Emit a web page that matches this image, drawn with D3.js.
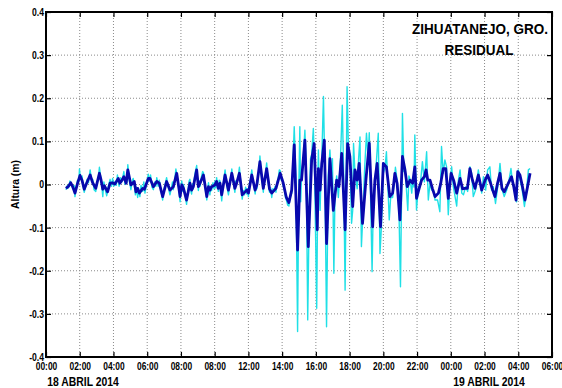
<!DOCTYPE html>
<html><head><meta charset="utf-8">
<script src="https://cdn.jsdelivr.net/npm/d3@7"></script>
<style>
body{margin:0;background:#fff;}
svg{display:block;}
text{font-family:"Liberation Sans Narrow","Arial Narrow","Liberation Sans",Arial,sans-serif;font-weight:bold;fill:#000;}
</style>
</head><body>
<svg id="c" width="562" height="388"></svg>
<script>
// time in minutes from 18 ABRIL 2014 00:00
const xTickMinutes = [0,120,240,360,480,600,720,840,960,1080,1200,1320,1440,1560,1680,1800];
const xTickLabels = ["00:00","02:00","04:00","06:00","08:00","08:00","12:00","14:00","16:00","18:00","20:00","22:00","00:00","02:00","04:00","06:00"];
const yTickValues = [-0.4,-0.3,-0.2,-0.1,0,0.1,0.2,0.3,0.4];
const yTickLabels = ["-0.4","-0.3","-0.2","-0.1","0","0.1","0.2","0.3","0.4"];
const dateLabels = ["18 ABRIL 2014","19 ABRIL 2014"];
const titleLines = ["ZIHUATANEJO, GRO.","RESIDUAL"];
const yAxisTitle = "Altura (m)";

// filtered residual (dark blue)
const filteredSeries = [
[71,-0.009],[80,-0.004],[88,0.004],[95,-0.005],[103,-0.020],[112,0.002],[121,0.021],[128,0.010],[136,-0.011],[146,0.005],[157,0.022],[166,0.004],[177,-0.009],[190,0.026],[196,0.010],[202,-0.011],[208,-0.003],[219,-0.017],[228,0.003],[237,0.004],[245,0.001],[257,0.014],[263,0.003],[270,0.010],[277,0.018],[285,0.003],[291,0.034],[302,-0.001],[314,0.007],[320,-0.017],[326,-0.009],[332,-0.020],[344,-0.009],[350,-0.011],[364,0.014],[370,0.014],[382,-0.005],[394,0.007],[403,0.003],[415,-0.028],[429,0.007],[441,-0.013],[453,-0.005],[465,0.026],[477,-0.028],[483,-0.001],[489,-0.009],[500,-0.036],[512,0.003],[518,-0.013],[524,-0.005],[536,0.034],[542,-0.005],[548,0.003],[560,0.022],[572,-0.028],[578,-0.005],[583,-0.013],[589,-0.005],[601,-0.001],[607,0.007],[613,-0.009],[619,0.003],[625,-0.024],[637,0.022],[649,-0.013],[661,0.026],[672,-0.009],[678,0.003],[688,0.026],[698,-0.024],[714,-0.013],[720,-0.020],[732,0.022],[744,-0.013],[750,-0.001],[761,0.053],[773,-0.009],[785,0.037],[795,-0.010],[803,-0.020],[818,-0.009],[833,0.026],[844,0.003],[855,-0.030],[864,-0.042],[874,-0.013],[883,0.092],[895,-0.152],[903,0.010],[909,0.010],[921,0.103],[933,-0.144],[945,0.057],[954,0.095],[965,-0.105],[969,0.037],[975,-0.013],[981,0.049],[990,0.103],[998,-0.137],[1010,0.060],[1022,-0.060],[1034,0.010],[1042,-0.005],[1052,0.072],[1064,-0.105],[1073,0.095],[1081,0.065],[1091,-0.051],[1099,0.034],[1107,0.010],[1114,0.049],[1126,-0.090],[1138,0.010],[1150,0.096],[1162,-0.098],[1170,0.010],[1178,0.049],[1190,-0.098],[1200,0.049],[1211,0.041],[1223,-0.028],[1233,-0.020],[1241,0.026],[1249,0.003],[1259,-0.082],[1268,0.065],[1277,0.034],[1285,-0.005],[1295,0.010],[1304,0.003],[1312,0.041],[1318,-0.032],[1327,-0.010],[1336,0.010],[1346,0.018],[1352,0.034],[1358,0.010],[1366,0.010],[1375,-0.010],[1384,-0.028],[1396,-0.020],[1404,0.002],[1413,0.037],[1422,0.037],[1431,-0.032],[1441,0.026],[1450,0.010],[1461,-0.020],[1473,0.014],[1482,-0.010],[1490,-0.009],[1499,-0.009],[1508,0.037],[1517,0.010],[1526,-0.009],[1538,0.022],[1550,-0.013],[1562,0.010],[1571,0.022],[1580,0.006],[1589,-0.013],[1597,-0.028],[1606,0.002],[1615,0.026],[1622,-0.009],[1630,-0.017],[1639,-0.005],[1647,0.006],[1656,0.018],[1664,-0.005],[1672,-0.036],[1678,0.030],[1686,0.022],[1695,-0.005],[1704,-0.036],[1713,-0.005],[1722,0.026]
];

// raw residual (cyan)
const rawSeries = [
[71,-0.012],[76,-0.002],[80,-0.008],[85,0.008],[90,0.000],[95,-0.010],[100,-0.002],[103,-0.028],[108,-0.005],[112,0.010],[117,0.008],[119,0.036],[123,0.012],[128,0.020],[132,-0.005],[136,-0.018],[141,-0.004],[146,0.012],[151,0.004],[157,0.034],[162,0.010],[166,0.012],[171,-0.012],[177,-0.016],[182,0.006],[186,0.014],[190,0.040],[194,0.020],[198,0.000],[202,-0.028],[206,0.006],[210,-0.010],[216,-0.026],[222,-0.004],[228,0.012],[233,-0.004],[237,0.014],[241,-0.004],[245,0.006],[250,-0.002],[254,0.022],[257,0.012],[260,-0.004],[265,0.016],[270,0.006],[277,0.030],[281,0.000],[285,0.010],[288,0.004],[291,0.046],[296,0.012],[302,-0.012],[306,0.006],[310,0.014],[314,0.000],[318,-0.024],[322,-0.006],[326,-0.030],[330,-0.010],[334,-0.028],[338,-0.002],[344,-0.016],[348,0.006],[352,-0.020],[358,0.004],[364,0.024],[368,0.008],[372,0.022],[377,-0.006],[382,-0.012],[387,0.006],[391,-0.004],[394,0.016],[399,-0.004],[403,0.010],[408,-0.010],[415,-0.036],[420,-0.010],[425,0.004],[429,0.016],[434,-0.004],[441,-0.024],[446,-0.008],[450,0.006],[453,-0.012],[458,0.012],[462,0.036],[465,0.024],[470,0.004],[474,-0.020],[477,-0.040],[480,-0.004],[483,0.008],[487,-0.016],[489,0.000],[494,-0.020],[500,-0.046],[505,-0.014],[509,0.008],[512,0.012],[515,-0.014],[518,-0.022],[521,0.002],[524,-0.010],[528,0.016],[532,0.032],[536,0.044],[539,0.010],[542,-0.014],[545,0.008],[548,-0.004],[553,0.018],[557,0.030],[560,0.028],[564,0.006],[568,-0.016],[572,-0.036],[575,-0.010],[578,0.004],[583,-0.024],[586,-0.004],[589,-0.014],[594,0.004],[598,-0.010],[601,0.008],[604,-0.008],[607,0.016],[610,-0.004],[613,-0.016],[616,0.010],[619,0.008],[622,-0.016],[625,-0.038],[629,-0.010],[633,0.014],[637,0.034],[641,0.010],[645,-0.010],[649,-0.024],[653,-0.004],[657,0.014],[661,0.036],[665,0.010],[668,-0.004],[672,-0.018],[675,0.008],[678,0.000],[683,0.016],[688,0.040],[692,0.010],[695,-0.010],[698,-0.034],[702,-0.014],[706,-0.024],[710,-0.006],[714,-0.022],[717,-0.010],[720,-0.028],[724,0.000],[728,0.014],[732,0.034],[736,0.012],[740,-0.004],[744,-0.022],[747,-0.004],[750,-0.010],[754,0.012],[758,0.034],[761,0.066],[765,0.030],[769,0.004],[773,-0.018],[776,0.006],[780,0.020],[785,0.050],[789,0.016],[792,-0.004],[795,-0.018],[799,-0.008],[803,-0.030],[807,-0.010],[811,-0.016],[815,-0.004],[818,-0.018],[822,0.006],[826,0.014],[830,0.034],[833,0.032],[837,0.010],[840,0.016],[844,-0.004],[848,-0.012],[852,-0.030],[855,-0.036],[860,-0.048],[864,-0.050],[868,-0.030],[874,-0.020],[878,0.040],
[883,0.134],[889,0.020],[895,-0.341],[899,-0.020],[903,0.134],[906,-0.040],[909,0.020],[915,0.060],[921,0.126],[926,0.030],[931,-0.314],[937,-0.030],[941,0.060],[945,0.070],[951,0.130],[955,0.050],[963,-0.287],[967,0.010],[969,0.080],[972,-0.010],[975,-0.060],[978,0.010],[981,0.060],[987,0.204],[992,0.030],[998,-0.330],[1004,0.020],[1010,0.080],[1015,0.020],[1019,0.060],[1024,-0.206],[1028,-0.020],[1034,0.020],[1040,-0.030],[1047,0.050],[1054,0.184],[1059,0.020],[1064,-0.245],[1068,0.020],[1071,0.227],[1076,0.080],[1081,0.068],[1087,-0.090],[1091,-0.060],[1094,0.095],[1099,0.030],[1107,-0.010],[1112,0.060],[1117,0.110],[1122,-0.144],[1128,-0.060],[1133,0.030],[1140,0.119],[1146,0.060],[1150,0.120],[1155,-0.040],[1160,-0.202],[1165,-0.020],[1170,0.000],[1176,0.060],[1182,0.119],[1188,-0.160],[1193,-0.100],[1200,0.026],[1206,0.040],[1211,0.076],[1216,0.000],[1221,-0.082],[1226,-0.030],[1233,-0.030],[1238,0.000],[1243,0.040],[1249,0.010],[1255,-0.040],[1261,-0.237],[1266,0.040],[1268,0.165],[1273,0.030],[1277,0.040],[1282,-0.010],[1287,-0.060],[1291,0.020],[1296,0.010],[1301,-0.020],[1305,0.010],[1309,-0.006],
[1312,0.115],[1318,-0.059],[1324,-0.009],[1332,0.003],[1339,0.053],[1346,0.006],[1354,0.076],[1360,-0.036],[1366,0.003],[1372,-0.013],[1378,-0.013],[1384,-0.036],[1393,-0.036],[1401,-0.063],[1407,0.088],[1413,0.026],[1419,0.057],[1425,0.041],[1431,-0.070],[1437,0.003],[1443,0.041],[1449,-0.005],[1461,-0.050],[1467,0.010],[1473,0.034],[1479,-0.020],[1485,-0.024],[1493,-0.005],[1500,-0.016],[1508,0.041],[1514,0.026],[1520,-0.028],[1528,-0.013],[1538,0.034],[1544,0.007],[1550,-0.020],[1556,0.018],[1564,-0.013],[1571,0.034],[1579,0.041],[1585,-0.013],[1591,-0.005],[1599,-0.044],[1607,-0.005],[1615,0.049],[1623,-0.013],[1630,-0.028],[1639,-0.013],[1647,0.010],[1654,0.037],[1660,0.003],[1668,-0.020],[1674,-0.040],[1680,0.034],[1686,0.014],[1694,-0.013],[1702,-0.051],[1710,-0.009],[1716,0.034],[1722,0.037]
];

const W = 562, H = 388;
const m = {left:46, right:552, top:12, bottom:357};
const svg = d3.select("#c");
const x = d3.scaleLinear().domain([0,1800]).range([m.left, m.right]);
const y = d3.scaleLinear().domain([-0.4,0.4]).range([m.bottom, m.top]);
const pw = m.right - m.left, ph = m.bottom - m.top;

// condense text horizontally (narrow bold look)
function condense(sel, f){
  sel.each(function(){
    const L = this.getComputedTextLength();
    if (L > 0) d3.select(this).attr("textLength", L*f).attr("lengthAdjust","spacingAndGlyphs");
  });
}

// grid
const grid = svg.append("g");
grid.selectAll("line.gx").data(xTickMinutes.slice(1,-1)).join("line")
  .attr("x1", d=>x(d)).attr("x2", d=>x(d)).attr("y1", m.top).attr("y2", m.bottom)
  .attr("stroke","#8a8a8a").attr("stroke-width",1).attr("stroke-dasharray","1,2");
grid.selectAll("line.gy").data(yTickValues.slice(1,-1)).join("line")
  .attr("y1", d=>y(d)).attr("y2", d=>y(d)).attr("x1", m.left).attr("x2", m.right)
  .attr("stroke","#8a8a8a").attr("stroke-width",1).attr("stroke-dasharray","1,2");

// data
const clipId = "plotclip";
svg.append("clipPath").attr("id",clipId).append("rect")
  .attr("x",m.left).attr("y",m.top).attr("width",pw).attr("height",ph);
const line = d3.line().x(d=>x(d[0])).y(d=>y(d[1]));
const g = svg.append("g").attr("clip-path",`url(#${clipId})`);
g.append("path").datum(rawSeries).attr("d",line)
  .attr("fill","none").attr("stroke","#1fe0e6").attr("stroke-width",1.4).attr("stroke-linejoin","round");
g.append("path").datum(filteredSeries).attr("d",line)
  .attr("fill","none").attr("stroke","#0808ad").attr("stroke-width",2.8).attr("stroke-linejoin","round");

// axes
const xb = svg.append("g").attr("transform",`translate(0,${m.bottom})`)
  .call(d3.axisBottom(x).tickValues(xTickMinutes).tickFormat((d,i)=>xTickLabels[i]).tickSizeInner(-5).tickSizeOuter(0).tickPadding(6));
const yl = svg.append("g").attr("transform",`translate(${m.left},0)`)
  .call(d3.axisLeft(y).tickValues(yTickValues).tickFormat((d,i)=>yTickLabels[i]).tickSizeInner(-5).tickSizeOuter(0).tickPadding(2));
const xt = svg.append("g").attr("transform",`translate(0,${m.top})`)
  .call(d3.axisTop(x).tickValues(xTickMinutes).tickFormat("").tickSizeInner(-5).tickSizeOuter(0));
const yr = svg.append("g").attr("transform",`translate(${m.right},0)`)
  .call(d3.axisRight(y).tickValues(yTickValues).tickFormat("").tickSizeInner(-5).tickSizeOuter(0));
[xb,yl,xt,yr].forEach(a=>{a.select(".domain").remove(); a.selectAll(".tick line").attr("stroke","#000").attr("stroke-width",1.2);});
xb.selectAll("text").attr("font-size",10.5).attr("font-family",null).attr("fill","#000").call(condense,0.8);
yl.selectAll("text").attr("font-size",10.5).attr("font-family",null).attr("fill","#000").call(condense,0.82);

// frame
svg.append("rect").attr("x",m.left).attr("y",m.top).attr("width",pw).attr("height",ph)
  .attr("fill","none").attr("stroke","#000").attr("stroke-width",2);

// date labels
svg.append("text").attr("x",83).attr("y",386).attr("text-anchor","middle").attr("font-size",13).text(dateLabels[0]).call(condense,0.8);
svg.append("text").attr("x",489).attr("y",386).attr("text-anchor","middle").attr("font-size",13).text(dateLabels[1]).call(condense,0.8);

// y title
svg.append("text").attr("transform",`translate(19,${(m.top+m.bottom)/2}) rotate(-90)`)
  .attr("text-anchor","middle").attr("font-size",11.5).text(yAxisTitle).call(condense,0.9);

// title
svg.append("text").attr("x",480).attr("y",34).attr("text-anchor","middle").attr("font-size",15).text(titleLines[0]).call(condense,0.9);
svg.append("text").attr("x",479).attr("y",55).attr("text-anchor","middle").attr("font-size",15).text(titleLines[1]).call(condense,0.9);
</script>
</body></html>
